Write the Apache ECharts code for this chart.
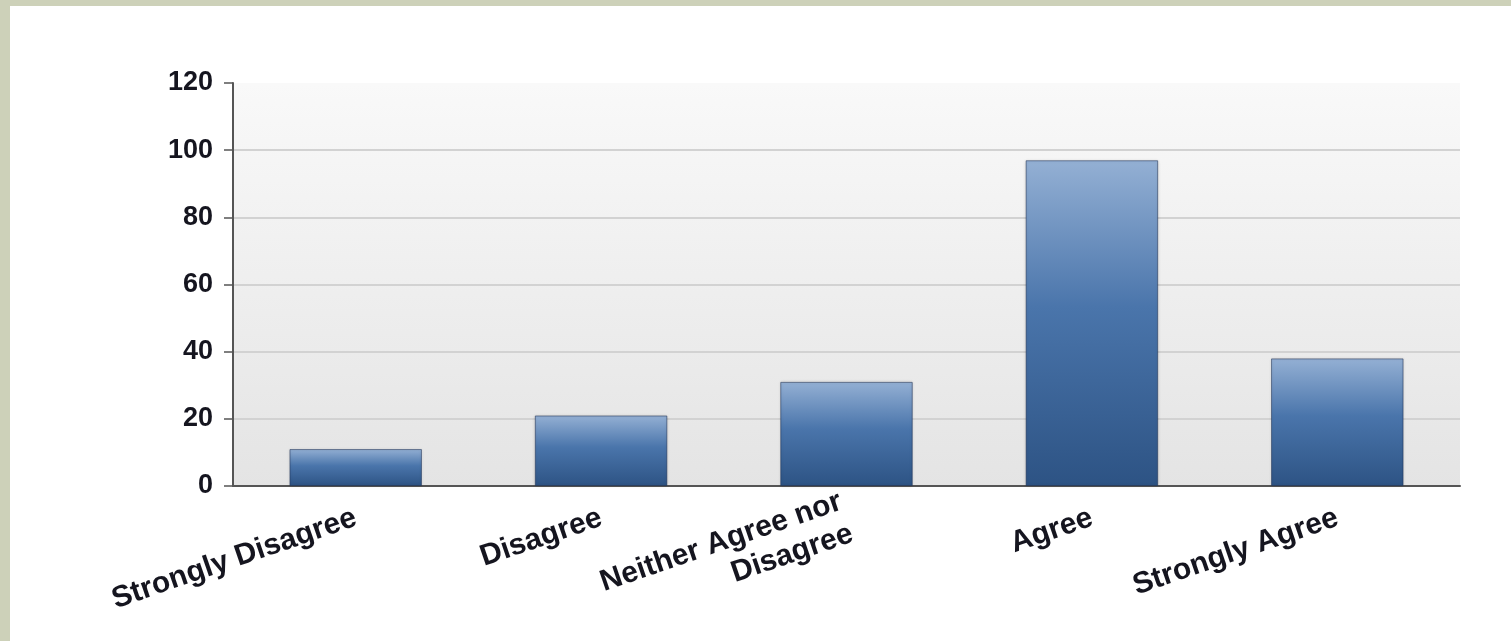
<!DOCTYPE html>
<html>
<head>
<meta charset="utf-8">
<title>Survey responses</title>
<script src="https://cdn.jsdelivr.net/npm/echarts@6/dist/echarts.min.js"></script>
<style>
  html, body { margin: 0; padding: 0; width: 1511px; height: 641px; background: #cdd1b9; overflow: hidden; }
  #chart { position: absolute; left: 10px; top: 6px; width: 1501px; height: 635px; background: #ffffff; }
</style>
</head>
<body>
<div id="chart"></div>
<script>
// Response categories and counts
const categories = ['Strongly Disagree', 'Disagree', 'Neither Agree nor\nDisagree', 'Agree', 'Strongly Agree'];
const counts = [11, 21, 31, 97, 38];
const yTicks = { min: 0, max: 120, step: 20 };

const chart = echarts.init(document.getElementById('chart'), null, { renderer: 'canvas' });

const fontBase = {
  fontFamily: '"Liberation Sans", Arial, sans-serif',
  fontWeight: 'bold',
  color: '#15151f'
};

// one colour per gridline; the top one (at max) stays hidden
const nLines = (yTicks.max - yTicks.min) / yTicks.step + 1;
const gridColors = [];
for (let i = 0; i < nLines; i++) gridColors.push(i === nLines - 1 ? 'rgba(0,0,0,0)' : '#d2d2d2');

chart.setOption({
  animation: false,
  grid: {
    left: 223, right: 51, top: 77, bottom: 155,
    show: true,
    borderWidth: 0,
    backgroundColor: {
      type: 'linear', x: 0, y: 0, x2: 0, y2: 1,
      colorStops: [
        { offset: 0, color: '#f9f9f9' },
        { offset: 1, color: '#e4e4e4' }
      ]
    }
  },
  xAxis: {
    type: 'category',
    data: categories,
    axisLine: { lineStyle: { color: '#555555', width: 2 } },
    axisTick: { alignWithLabel: true, length: 9, lineStyle: { color: '#555555', width: 1.5 } },
    axisLabel: Object.assign({ interval: 0, rotate: 19, margin: 31, fontSize: 30, lineHeight: 34 }, fontBase),
    splitLine: { show: false }
  },
  yAxis: {
    type: 'value',
    min: yTicks.min,
    max: yTicks.max,
    interval: yTicks.step,
    axisLine: { show: true, lineStyle: { color: '#555555', width: 2 } },
    axisTick: { show: true, length: 9, lineStyle: { color: '#555555', width: 1.5 } },
    axisLabel: Object.assign({ margin: 20, fontSize: 27 }, fontBase),
    splitLine: { show: true, lineStyle: { color: gridColors, width: 2 } }
  },
  series: [{
    type: 'bar',
    data: counts,
    barWidth: '54%',
    itemStyle: {
      color: {
        type: 'linear', x: 0, y: 0, x2: 0, y2: 1,
        colorStops: [
          { offset: 0, color: '#94b0d4' },
          { offset: 0.45, color: '#4a75ab' },
          { offset: 1, color: '#2d5384' }
        ]
      },
      borderColor: 'rgba(30,50,85,0.55)',
      borderWidth: 1,
      shadowColor: 'rgba(0,0,0,0.15)',
      shadowBlur: 3
    }
  }]
});
</script>
</body>
</html>
